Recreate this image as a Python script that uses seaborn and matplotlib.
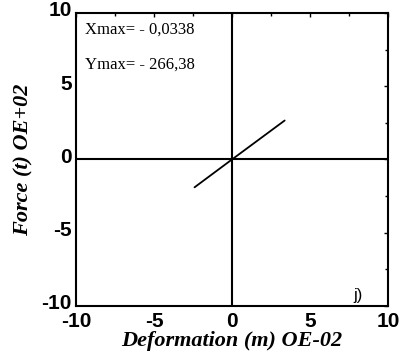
import pandas as pd
import matplotlib.pyplot as plt
import matplotlib.transforms as mtransforms
import seaborn as sns

# curve points (deformation in E-02 m, force in E+02 t)
deformation = [-2.4, 0.0, 3.38]
force = [-1.9, 0.0, 2.66]

x_ticks = [-10, -5, 0, 5, 10]
y_ticks = [-10, -5, 0, 5, 10]

df = pd.DataFrame({"Deformation": deformation, "Force": force})

sns.set_theme(style="white")
plt.rcParams["font.family"] = ["Liberation Sans", "DejaVu Sans"]
plt.rcParams["axes.unicode_minus"] = False
plt.rcParams["text.color"] = "black"
plt.rcParams["xtick.color"] = "black"
plt.rcParams["ytick.color"] = "black"
plt.rcParams["axes.labelcolor"] = "black"

fig = plt.figure(figsize=(4.02, 3.6), dpi=100)
ax = fig.add_axes([0.189, 0.15, 0.776, 0.814])

ax.axhline(0, color="black", lw=1.5)
ax.axvline(0, color="black", lw=1.5)
sns.lineplot(data=df, x="Deformation", y="Force", color="black", lw=1.3, ax=ax)

ax.set_xlim(-10, 10)
ax.set_ylim(-10, 10)
ax.set_xticks(x_ticks)
ax.set_yticks(y_ticks)
ax.set_xticks([-7.5, -2.5, 2.5, 7.5], minor=True)
ax.set_yticks([-7.5, -2.5, 2.5, 7.5], minor=True)
ax.tick_params(which="both", direction="in", top=True, right=True, length=3, width=1,
               labelsize=15)
ax.tick_params(axis="x", pad=4)
ax.tick_params(axis="y", pad=3)
ax.tick_params(which="minor", length=2)

# nudge y tick labels up a little so "-10" clears the x labels
shift = mtransforms.ScaledTranslation(0, 3 / 72, fig.dpi_scale_trans)
for lbl in ax.get_yticklabels():
    lbl.set_transform(lbl.get_transform() + shift)
for lbl in ax.get_xticklabels() + ax.get_yticklabels():
    lbl.set_fontweight("bold")
for s in ax.spines.values():
    s.set_color("black")
    s.set_linewidth(1.5)

ax.set_xlabel("Deformation (m) OE-02", family="Liberation Serif", fontweight="bold",
              style="italic", fontsize=16, labelpad=0)
ax.set_ylabel("Force (t) OE+02", family="Liberation Serif", fontweight="bold",
              style="italic", fontsize=16, labelpad=6)

ax.text(-9.4, 8.85, "Xmax= - 0,0338", family="Liberation Serif", fontsize=12, va="center")
ax.text(-9.4, 6.5, "Ymax= - 266,38", family="Liberation Serif", fontsize=12, va="center")
ax.text(8.4, -9.3, "j)", family="Liberation Sans", fontsize=12, ha="right", va="center")

plt.savefig("out.png", dpi=100)
plt.close()
